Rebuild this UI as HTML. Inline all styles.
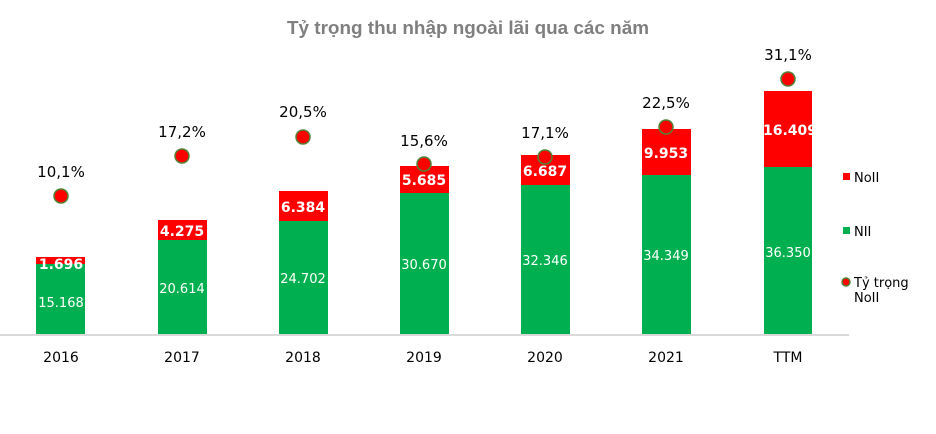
<!DOCTYPE html><html><head><meta charset="utf-8"><style>body{margin:0;background:#fff}svg{display:block}</style></head><body>
<svg width="936" height="434" xmlns="http://www.w3.org/2000/svg" font-family="'DejaVu Sans','Liberation Sans',sans-serif">
<text x="468" y="34" text-anchor="middle" font-size="18" font-weight="bold" fill="#7f7f7f" font-family="'Liberation Sans',sans-serif" textLength="362" lengthAdjust="spacingAndGlyphs">Tỷ trọng thu nhập ngoài lãi qua các năm</text>
<line x1="0" y1="335" x2="849" y2="335" stroke="#d9d9d9" stroke-width="2"/>
<g fill="#00b050">
<rect x="36" y="264" width="49" height="70"/><rect x="158" y="240" width="49" height="94"/><rect x="279" y="221" width="49" height="113"/><rect x="400" y="193" width="49" height="141"/><rect x="521" y="185" width="49" height="149"/><rect x="642" y="175" width="49" height="159"/><rect x="764" y="167" width="48" height="167"/>
</g>
<g fill="#ff0000">
<rect x="36" y="257" width="49" height="7"/><rect x="158" y="220" width="49" height="20"/><rect x="279" y="191" width="49" height="30"/><rect x="400" y="166" width="49" height="27"/><rect x="521" y="155" width="49" height="30"/><rect x="642" y="129" width="49" height="46"/><rect x="764" y="91" width="48" height="76"/>
</g>
<g fill="#fff" font-size="13" text-anchor="middle">
<text x="61" y="307">15.168</text><text x="182" y="293">20.614</text><text x="303" y="283">24.702</text><text x="424" y="269">30.670</text><text x="545" y="265">32.346</text><text x="666" y="260">34.349</text><text x="788" y="257">36.350</text>
</g>
<g fill="#fff" font-size="14" font-weight="bold" text-anchor="middle">
<text x="61" y="269">1.696</text><text x="182" y="236">4.275</text><text x="303" y="212">6.384</text><text x="424" y="185">5.685</text><text x="545" y="176">6.687</text><text x="666" y="158">9.953</text><text x="790" y="135">16.409</text>
</g>
<g fill="#ff0000" stroke="#548235" stroke-width="1.5">
<circle cx="61" cy="196" r="7"/><circle cx="182" cy="156" r="7"/><circle cx="303" cy="137" r="7"/><circle cx="424" cy="164" r="7"/><circle cx="545" cy="157" r="7"/><circle cx="666" cy="127" r="7"/><circle cx="788" cy="79" r="7"/>
</g>
<g fill="#000" font-size="15" text-anchor="middle">
<text x="61" y="177">10,1%</text><text x="182" y="137">17,2%</text><text x="303" y="117">20,5%</text><text x="424" y="146">15,6%</text><text x="545" y="138">17,1%</text><text x="666" y="108">22,5%</text><text x="788" y="60">31,1%</text>
</g>
<g fill="#000" font-size="14" text-anchor="middle">
<text x="61" y="362">2016</text><text x="182" y="362">2017</text><text x="303" y="362">2018</text><text x="424" y="362">2019</text><text x="545" y="362">2020</text><text x="666" y="362">2021</text><text x="788" y="362">TTM</text>
</g>
<rect x="843" y="173" width="7" height="7" fill="#ff0000"/>
<rect x="843" y="227" width="7" height="7" fill="#00b050"/>
<circle cx="846" cy="282" r="4" fill="#ff0000" stroke="#548235" stroke-width="1.5"/>
<g fill="#000" font-size="13">
<text x="854" y="182">NoII</text><text x="854" y="236">NII</text><text x="854" y="287">Tỷ trọng</text><text x="854" y="302">NoII</text>
</g>
</svg></body></html>
